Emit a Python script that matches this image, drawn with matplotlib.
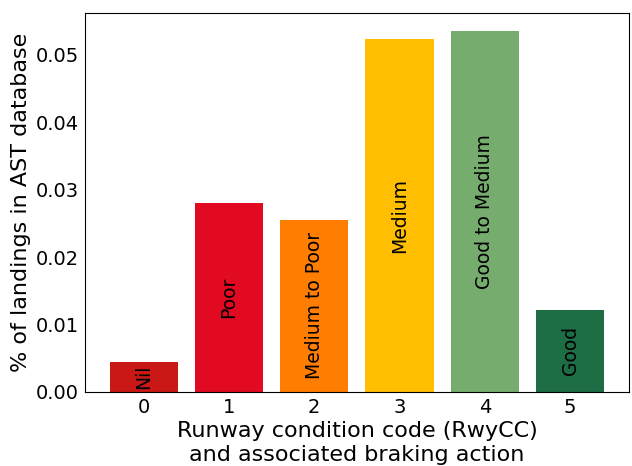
import matplotlib.pyplot as plt

# landing share per runway condition code
codes = [0, 1, 2, 3, 4, 5]
braking = ["Nil", "Poor", "Medium to Poor", "Medium", "Good to Medium", "Good"]
share = [0.0044, 0.0280, 0.0255, 0.0523, 0.0535, 0.0122]
colors = ["#C91815", "#E10A20", "#FF7D00", "#FFBE00", "#76AD6F", "#1E6E45"]

fig = plt.figure(figsize=(6.32, 4.66), dpi=100)
ax = fig.add_axes([0.1345, 0.159, 0.8605, 0.813])

bars = ax.bar(codes, share, width=0.8, color=colors)

# braking action written vertically inside each bar
for x, h, name in zip(codes, share, braking):
    ax.text(x, h / 2, name, rotation=90, ha="center", va="center", fontsize=13.5)

ax.set_xticks(codes)
ax.set_yticks([0.0, 0.01, 0.02, 0.03, 0.04, 0.05])
ax.set_yticklabels(["0.00", "0.01", "0.02", "0.03", "0.04", "0.05"])
ax.tick_params(length=0, labelsize=14, pad=4.5)

ax.set_xlabel("Runway condition code (RwyCC)\nand associated braking action",
              fontsize=16, labelpad=3)
ax.set_ylabel("% of landings in AST database", fontsize=16, labelpad=3)

fig.savefig("out.png", dpi=100)
